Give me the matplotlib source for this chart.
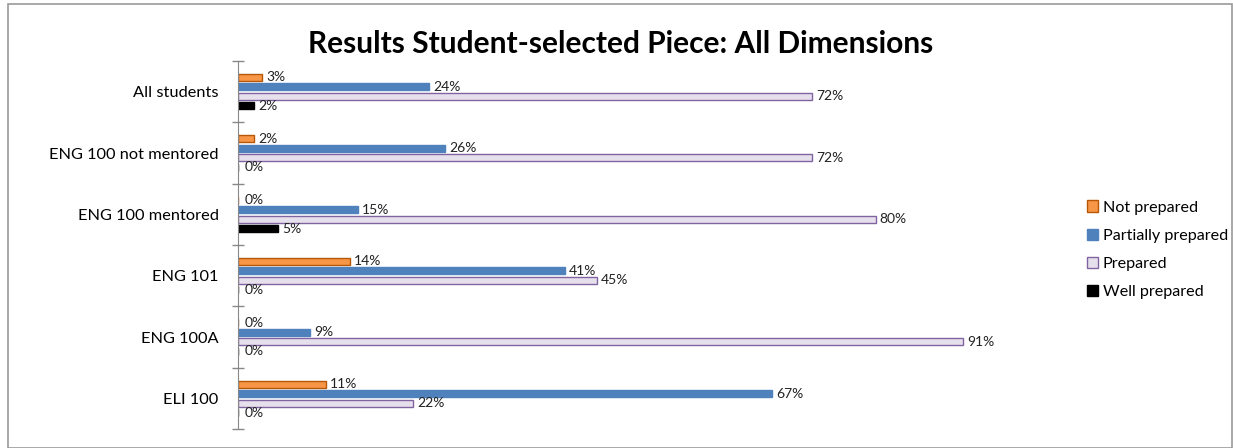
import matplotlib
matplotlib.use("Agg")
import matplotlib.pyplot as plt
from matplotlib.patches import Rectangle
import numpy as np

plt.rcParams['font.family'] = ['Lato', 'DejaVu Sans']

categories = ["All students", "ENG 100 not mentored", "ENG 100 mentored",
              "ENG 101", "ENG 100A", "ELI 100"]
series_names = ["Not prepared", "Partially prepared", "Prepared", "Well prepared"]
not_prepared = [3, 2, 0, 14, 0, 11]
partially_prepared = [24, 26, 15, 41, 9, 67]
prepared = [72, 72, 80, 45, 91, 22]
well_prepared = [2, 0, 5, 0, 0, 0]
series_values = [not_prepared, partially_prepared, prepared, well_prepared]

fills = ["#F79646", "#4F81BD", "#E6E0EC", "#000000"]
edges = ["#B65708", "#4F81BD", "#8064A2", "#000000"]

W, H = 1233, 448
fig = plt.figure(figsize=(W / 100, H / 100), dpi=100)
ax = fig.add_axes([238 / W, (H - 429) / H, (1035 - 238) / W, (429 - 61) / H])

y = np.arange(len(categories))
step = 0.155
bh = 0.115
offsets = [-1.5 * step, -0.5 * step, 0.5 * step, 1.5 * step]
handles = []
for vals, name, fc, ec, off in zip(series_values, series_names, fills, edges, offsets):
    bars = ax.barh(y + off, vals, height=bh, color=fc, edgecolor=ec, linewidth=1.0, label=name)
    handles.append(bars)
    for yy, v in zip(y + off, vals):
        ax.annotate(f"{v}%", xy=(v, yy), xytext=(3 if v > 0 else 5, 0), textcoords="offset points",
                    ha="left", va="center", fontsize=10, color="#222222")

ax.set_xlim(0, 100)
ax.set_ylim(len(categories) - 0.5, -0.5)
ax.set_yticks(y)
ax.set_yticklabels(categories, fontsize=11.8)
ax.tick_params(axis="y", which="major", length=0, pad=14)
ax.set_yticks(np.arange(-0.5, len(categories), 1.0), minor=True)
ax.tick_params(axis="y", which="minor", length=8, direction="inout", color="#888888", width=1)
ax.set_xticks([])
for s in ["top", "right", "bottom"]:
    ax.spines[s].set_visible(False)
ax.spines["left"].set_color("#888888")

fig.text(621 / W, 1 - 44 / H, "Results Student-selected Piece: All Dimensions",
         ha="center", va="center", fontsize=21.5, fontweight="bold")

leg = fig.legend(handles=handles, labels=series_names, loc="upper left",
                 bbox_to_anchor=(1072 / W, 1 - 186 / H), frameon=False, fontsize=11.6,
                 handlelength=0.7, handleheight=0.7, handletextpad=0.3, labelspacing=0.86)

fig.patches.append(Rectangle((8 / W, 0), (1232 - 8) / W, 1 - 4 / H, transform=fig.transFigure,
                             fill=False, edgecolor="#999999", linewidth=1.2))

fig.savefig("out.png", dpi=100)
